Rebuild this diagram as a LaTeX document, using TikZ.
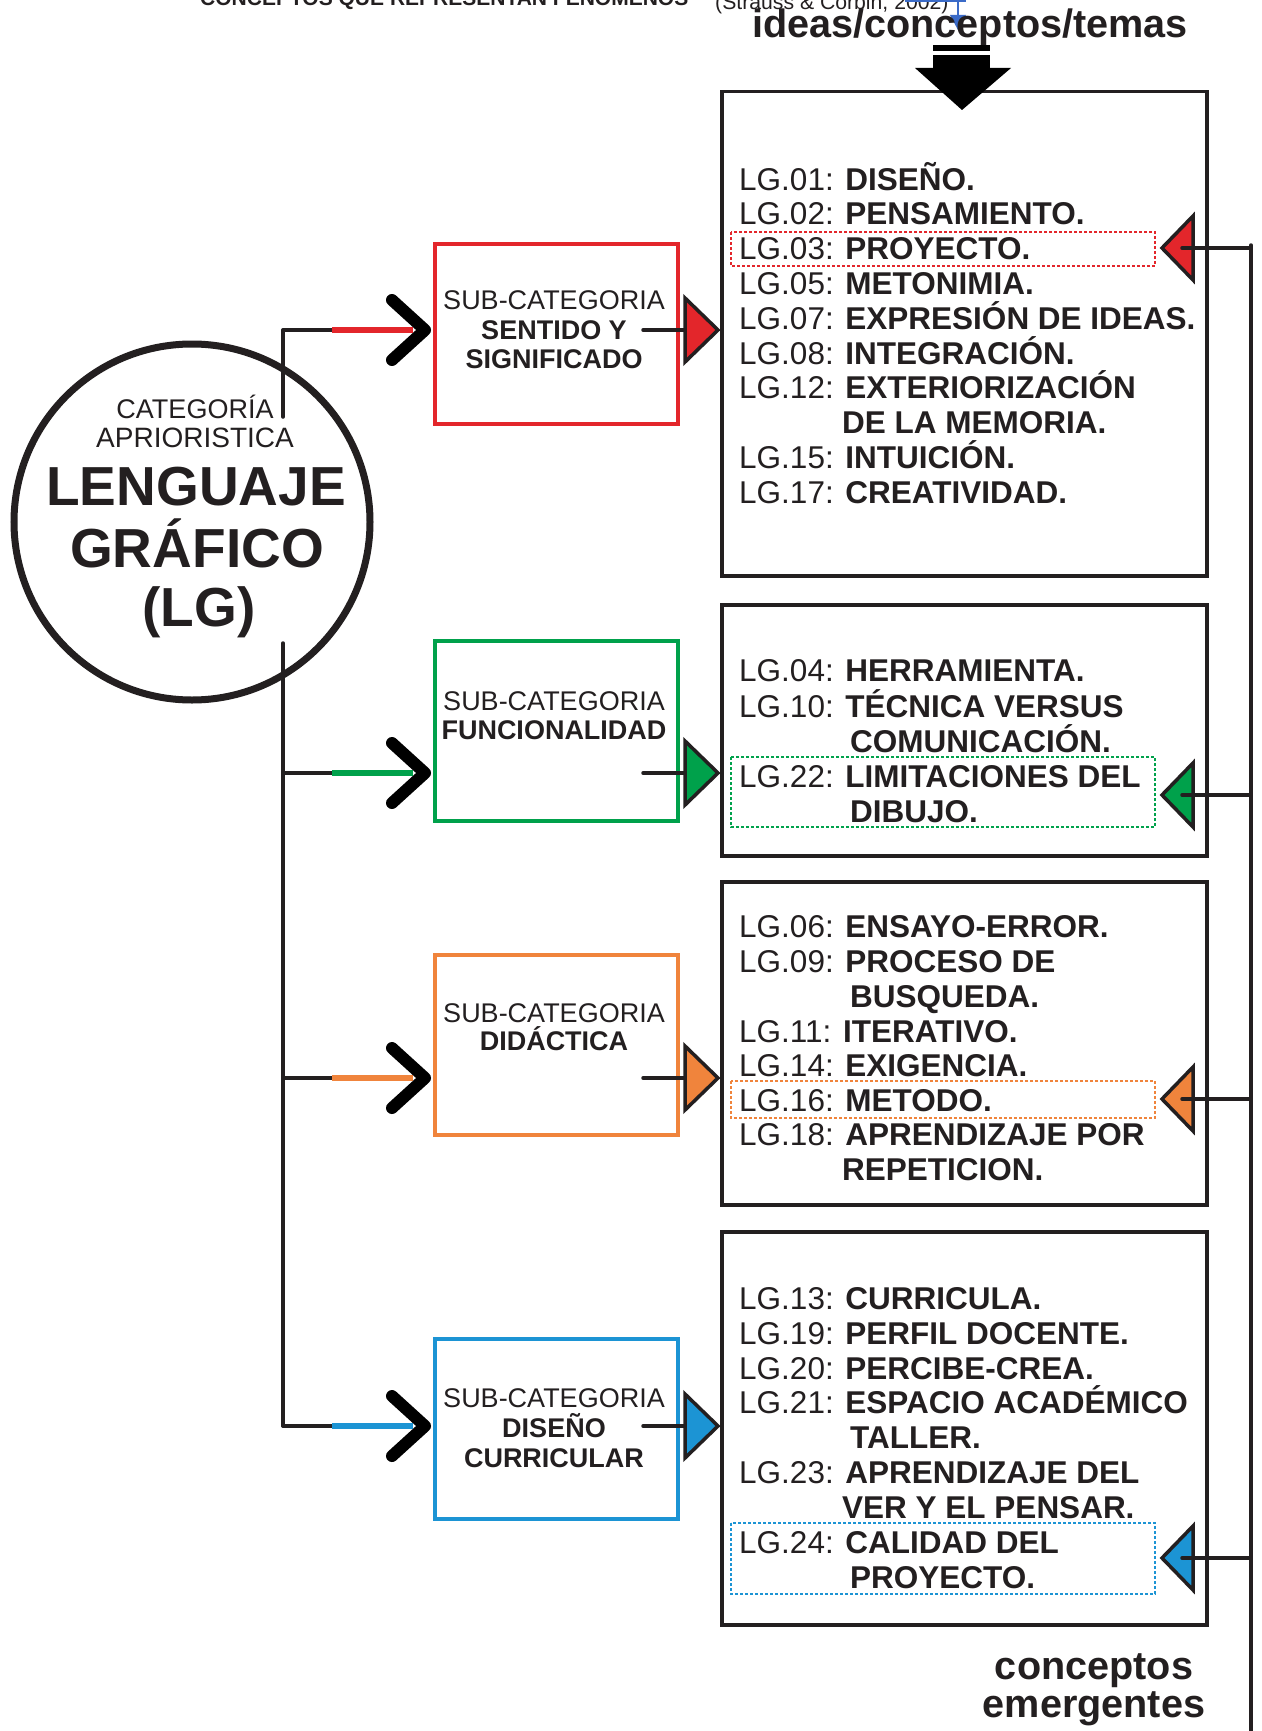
\documentclass[tikz,border=0pt]{standalone}
\usepackage{fontspec}
\setmainfont{Liberation Sans}
\usetikzlibrary{calc}

\definecolor{cRed}{HTML}{E3262B}
\definecolor{cGreen}{HTML}{00A14B}
\definecolor{cOrange}{HTML}{F0843C}
\definecolor{cBlue}{HTML}{1C94D4}
\definecolor{cInk}{HTML}{231F20}
\definecolor{cLink}{HTML}{3B6BC8}

\newcommand\itemfont{\fontsize{31.5}{35}\selectfont}
\newcommand\subfont{\fontsize{27}{30}\selectfont}

% branch from the trunk into a sub-category box
\newcommand\branch[3]{%
  \coordinate (tr#1) at (283,#2);
  \coordinate (hd#1) at (425,#2);
  \draw[thinline] (tr#1) -- ++(49,0) coordinate (cs#1);
  \draw[line width=6pt,#3] (cs#1) -- ($(hd#1)+(-12,0)$);
  \draw[chev] ($(hd#1)+(-33,-30)$) -- (hd#1) -- ($(hd#1)+(-33,30)$);
}
% arrow from a sub-category box into its list
\newcommand\outarrow[3]{%
  \coordinate (os#1) at (643,#2);
  \coordinate (ot#1) at (718,#2);
  \draw[thinline] (os#1) -- ($(ot#1)+(-28,0)$);
  \draw[tri,fill=#3] ($(ot#1)+(-33,-32)$) -- (ot#1) -- ($(ot#1)+(-33,32)$) -- cycle;
}
% arrow from the emergent-concepts rail back into a list item
\newcommand\backarrow[3]{%
  \coordinate (bt#1) at (1162,#2);
  \coordinate (bs#1) at (1251,#2);
  \draw[tri,fill=#3] ($(bt#1)+(31,-32)$) -- (bt#1) -- ($(bt#1)+(31,32)$) -- cycle;
  \draw[thinline] (bs#1) -- ($(bt#1)+(20,0)$);
}

\begin{document}
\begin{tikzpicture}[x=1pt,y=-1pt,
  thinline/.style={line width=3.5pt,cInk,line cap=round},
  chev/.style={line width=12pt,black,line cap=round,line join=round},
  tri/.style={line width=3.5pt,draw=cInk,line join=miter},
  listbox/.style={draw=cInk,line width=3.5pt,inner sep=0pt,anchor=north west},
  subbox/.style={line width=3.5pt,inner sep=0pt,anchor=north west,minimum width=243pt,minimum height=180pt},
  dotbox/.style={line width=1.6pt,dash pattern=on 3pt off 2pt},
  item/.style={anchor=base west,inner sep=0pt,font=\itemfont,text=cInk},
  subtxt/.style={anchor=base,inner sep=0pt,font=\subfont,text=cInk},
  bigtxt/.style={anchor=base,inner sep=0pt,font=\bfseries\fontsize{39.6}{40}\selectfont,text=cInk},
  circtxt/.style={anchor=base,inner sep=0pt,text=cInk}]

\useasboundingbox (0,0) rectangle (1261,1731);
\fill[white] (0,0) rectangle (1261,1731);

% heading, partly outside the page
\node[anchor=base west,inner sep=0pt,font=\bfseries\fontsize{21}{22}\selectfont,text=cInk]
  (head) at (200,6) {CONCEPTOS QUE REPRESENTAN FENÓMENOS};
\node[anchor=base west,inner sep=0pt,font=\fontsize{21.2}{22}\selectfont,text=cInk]
  (cite) at (715,10) {(Strauss \& Corbin, 2002)};
\coordinate (lk0) at (905,1);
\coordinate (lk1) at (965,1);
\coordinate (lk2) at (958,1);
\coordinate (lk3) at (958,30);
\draw[cLink,line width=1.4pt] (lk0) -- (lk1) -- ++(0,-6);
\draw[cLink,line width=1.4pt] (lk2) -- ($(lk3)+(0,-12)$);
\fill[cLink] ($(lk3)+(-8,-15)$) -- (lk3) -- ($(lk3)+(8,-15)$) -- cycle;

\node[bigtxt] (ideas) at (970,38) {ideas/conceptos/temas};

% list boxes
\node[listbox,minimum width=485pt,minimum height=484pt] (L1) at (720,90) {};
\node[listbox,minimum width=485pt,minimum height=251pt] (L2) at (720,603) {};
\node[listbox,minimum width=485pt,minimum height=323pt] (L3) at (720,880) {};
\node[listbox,minimum width=485pt,minimum height=393pt] (L4) at (720,1230) {};

% heavy arrow into the first list
\coordinate (dA) at (962,110);
\fill[black] (933,45) rectangle (990,51);
\fill[black] (933,55) rectangle (990,72);
\fill[black] (915,68) -- (1011,68) -- (dA) -- cycle;

% category circle
\node[circle,draw=cInk,line width=7pt,minimum size=356pt,inner sep=0pt] (lg) at (192,522) {};
\node[circtxt,font=\fontsize{27}{30}\selectfont] (c1) at (195,418) {CATEGORÍA};
\node[circtxt,font=\fontsize{28}{30}\selectfont] (c2) at (195,447) {APRIORISTICA};
\node[circtxt,font=\bfseries\fontsize{55}{60}\selectfont] (c3) at (196,505) {LENGUAJE};
\node[circtxt,font=\bfseries\fontsize{55}{60}\selectfont] (c4) at (197,567) {GRÁFICO};
\node[circtxt,font=\bfseries\fontsize{55}{60}\selectfont] (c5) at (199,626) {(LG)};

% trunk
\coordinate (tk0) at (283,330);
\coordinate (tk1) at (283,417);
\coordinate (tk2) at (283,643);
\coordinate (tk3) at (283,1426);
\draw[thinline] (tk0) -- (tk1);
\draw[thinline] (tk2) -- (tk3);

% sub-category boxes
\node[subbox,draw=cRed] (S1) at (433,242) {};
\node[subbox,draw=cGreen] (S2) at (433,639) {};
\node[subbox,draw=cOrange] (S3) at (433,953) {};
\node[subbox,draw=cBlue] (S4) at (433,1337) {};

\node[subtxt] (s1a) at (554,309) {SUB-CATEGORIA};
\node[subtxt,font=\subfont\bfseries] (s1b) at (554,339) {SENTIDO Y};
\node[subtxt,font=\subfont\bfseries] (s1c) at (554,368) {SIGNIFICADO};
\node[subtxt] (s2a) at (554,710) {SUB-CATEGORIA};
\node[subtxt,font=\subfont\bfseries] (s2b) at (554,739) {FUNCIONALIDAD};
\node[subtxt] (s3a) at (554,1022) {SUB-CATEGORIA};
\node[subtxt,font=\subfont\bfseries] (s3b) at (554,1050) {DIDÁCTICA};
\node[subtxt] (s4a) at (554,1407) {SUB-CATEGORIA};
\node[subtxt,font=\subfont\bfseries] (s4b) at (554,1437) {DISEÑO};
\node[subtxt,font=\subfont\bfseries] (s4c) at (554,1467) {CURRICULAR};

\branch{1}{330}{cRed}
\branch{2}{773}{cGreen}
\branch{3}{1078}{cOrange}
\branch{4}{1426}{cBlue}

\outarrow{1}{330}{cRed}
\outarrow{2}{773}{cGreen}
\outarrow{3}{1078}{cOrange}
\outarrow{4}{1426}{cBlue}

% list texts
\node[item] (a1) at (739,190) {LG.01: \textbf{DISEÑO.}};
\node[item] (a2) at (739,224.8) {LG.02: \textbf{PENSAMIENTO.}};
\node[item] (a3) at (739,259.6) {LG.03: \textbf{PROYECTO.}};
\node[item] (a4) at (739,294.4) {LG.05: \textbf{METONIMIA.}};
\node[item] (a5) at (739,329.2) {LG.07: \textbf{EXPRESIÓN DE IDEAS.}};
\node[item] (a6) at (739,364) {LG.08: \textbf{INTEGRACIÓN.}};
\node[item] (a7) at (739,398.8) {LG.12: \textbf{EXTERIORIZACIÓN}};
\node[item] (a8) at (842,433.6) {\textbf{DE LA MEMORIA.}};
\node[item] (a9) at (739,468.4) {LG.15: \textbf{INTUICIÓN.}};
\node[item] (a10) at (739,503.2) {LG.17: \textbf{CREATIVIDAD.}};

\node[item] (b1) at (739,681) {LG.04: \textbf{HERRAMIENTA.}};
\node[item] (b2) at (739,717) {LG.10: \textbf{TÉCNICA VERSUS}};
\node[item] (b3) at (850,752) {\textbf{COMUNICACIÓN.}};
\node[item] (b4) at (739,787) {LG.22: \textbf{LIMITACIONES DEL}};
\node[item] (b5) at (850,822) {\textbf{DIBUJO.}};

\node[item] (d1) at (739,937) {LG.06: \textbf{ENSAYO-ERROR.}};
\node[item] (d2) at (739,972) {LG.09: \textbf{PROCESO DE}};
\node[item] (d3) at (850,1007) {\textbf{BUSQUEDA.}};
\node[item] (d4) at (739,1042) {LG.11: \textbf{ITERATIVO.}};
\node[item] (d5) at (739,1076) {LG.14: \textbf{EXIGENCIA.}};
\node[item] (d6) at (739,1111) {LG.16: \textbf{METODO.}};
\node[item] (d7) at (739,1145) {LG.18: \textbf{APRENDIZAJE POR}};
\node[item] (d8) at (842,1180) {\textbf{REPETICION.}};

\node[item] (e1) at (739,1309) {LG.13: \textbf{CURRICULA.}};
\node[item] (e2) at (739,1344) {LG.19: \textbf{PERFIL DOCENTE.}};
\node[item] (e3) at (739,1379) {LG.20: \textbf{PERCIBE-CREA.}};
\node[item] (e4) at (739,1413) {LG.21: \textbf{ESPACIO ACADÉMICO}};
\node[item] (e5) at (850,1448) {\textbf{TALLER.}};
\node[item] (e6) at (739,1483) {LG.23: \textbf{APRENDIZAJE DEL}};
\node[item] (e7) at (842,1518) {\textbf{VER Y EL PENSAR.}};
\node[item] (e8) at (739,1553) {LG.24: \textbf{CALIDAD DEL}};
\node[item] (e9) at (850,1588) {\textbf{PROYECTO.}};

% emergent concepts marked with dotted frames
\draw[dotbox,cRed] (731,232) rectangle (1155,266);
\draw[dotbox,cGreen] (731,757) rectangle (1155,827);
\draw[dotbox,cOrange] (731,1081) rectangle (1155,1118);
\draw[dotbox,cBlue] (731,1523) rectangle (1155,1594);

% rail of emergent concepts
\coordinate (rt) at (1251,245);
\coordinate (rb) at (1251,1745);
\draw[thinline] (rt) -- (rb);
\backarrow{1}{248}{cRed}
\backarrow{2}{795}{cGreen}
\backarrow{3}{1099}{cOrange}
\backarrow{4}{1558}{cBlue}

\node[bigtxt] (em1) at (1094,1679) {conceptos};
\node[bigtxt] (em2) at (1094,1717) {emergentes};

\end{tikzpicture}
\end{document}
